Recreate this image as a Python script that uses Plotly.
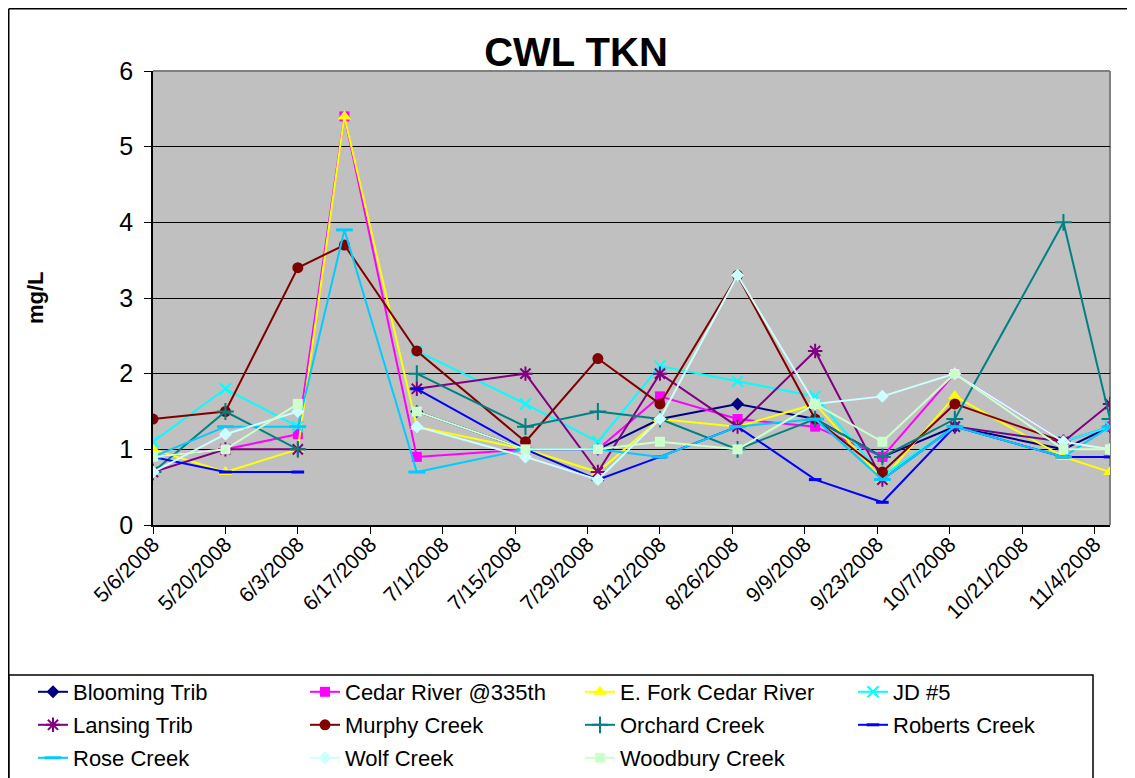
import plotly.graph_objects as go

# ---------------- data ----------------
dates = ["2008-05-06", "2008-05-20", "2008-06-03", "2008-06-12", "2008-06-26",
         "2008-07-17", "2008-07-31", "2008-08-12", "2008-08-27", "2008-09-11",
         "2008-09-24", "2008-10-08", "2008-10-29", "2008-11-07"]
N = None
blooming = [N, N, N, N, 1.5, 1.0, 1.0, 1.4, 1.6, 1.4, 0.9, 1.3, 1.0, 1.3]
cedar    = [0.9, 1.0, 1.2, 5.4, 0.9, 1.0, 1.0, 1.7, 1.4, 1.3, 0.9, 2.0, 1.1, 1.3]
efork    = [1.0, 0.7, 1.0, 5.4, 1.3, 1.0, 0.7, 1.4, 1.3, 1.6, 0.6, 1.7, 0.9, 0.7]
jd5      = [1.1, 1.8, 1.3, N, 2.3, 1.6, 1.1, 2.1, 1.9, 1.7, 0.65, 1.3, 1.1, 1.3]
lansing  = [0.7, 1.0, 1.0, N, 1.8, 2.0, 0.7, 2.0, 1.3, 2.3, 0.6, 1.3, 1.1, 1.6]
murphy   = [1.4, 1.5, 3.4, 3.7, 2.3, 1.1, 2.2, 1.6, 3.3, 1.4, 0.7, 1.6, 1.1, N]
orchard  = [0.7, 1.5, 1.0, N, 2.0, 1.3, 1.5, 1.4, 1.0, 1.4, 0.9, 1.4, 4.0, 1.4]
roberts  = [0.9, 0.7, 0.7, N, 1.8, 1.0, 0.6, 0.9, 1.3, 0.6, 0.3, 1.3, 0.9, 0.9]
rose     = [0.9, 1.3, 1.3, 3.9, 0.7, 1.0, 1.0, 0.9, 1.3, 1.4, 0.6, 1.3, 0.9, 1.3]
wolf     = [0.7, 1.2, 1.5, N, 1.3, 0.9, 0.6, 1.4, 3.3, 1.6, 1.7, 2.0, 1.1, 1.0]
woodbury = [0.9, 1.0, 1.6, N, 1.5, 1.0, 1.0, 1.1, 1.0, 1.6, 1.1, 2.0, 1.0, 1.0]

series_names = ["Blooming Trib", "Cedar River @335th", "E. Fork Cedar River", "JD #5",
                "Lansing Trib", "Murphy Creek", "Orchard Creek", "Roberts Creek",
                "Rose Creek", "Wolf Creek", "Woodbury Creek"]
series_values = [blooming, cedar, efork, jd5, lansing, murphy, orchard, roberts,
                 rose, wolf, woodbury]

# ---------------- styles ----------------
colors = ["#000080", "#FF00FF", "#FFFF00", "#00FFFF", "#800080", "#800000",
          "#008080", "#0000FF", "#00CCFF", "#CCFFFF", "#CCFFCC"]
symbols = ["diamond", "square", "triangle-up", "x-thin", "asterisk", "circle",
           "cross-thin", "line-ew", "line-ew", "diamond", "square"]
sizes = [10, 10, 12, 11, 12, 11, 12, 9, 12, 10, 10]
mlw = [0, 0, 0, 2, 2, 0, 2, 3, 3, 0, 0]

FONT = "Liberation Sans, Arial, sans-serif"
OFF = 8                       # page body margin offset
W, H = 1135 - OFF, 778 - OFF
L, R, T, B = 153 - OFF, 1110 - OFF, 71 - OFF, 525 - OFF   # plot area (figure px)

fig = go.Figure()
legend_text_x = [73, 345, 620, 893]      # reference text start (screen px)
legend_rows = [692, 725, 758]            # reference row centres (screen px)
for i, (name, vals) in enumerate(zip(series_names, series_values)):
    lg = "legend" if i == 0 else f"legend{i + 1}"
    fig.add_trace(go.Scatter(
        x=dates, y=vals, name=name, mode="lines+markers",
        connectgaps=False,
        line=dict(color=colors[i], width=2),
        marker=dict(symbol=symbols[i], size=sizes[i], color=colors[i],
                    line=dict(color=colors[i], width=mlw[i])),
        legend=lg,
    ))
    col = i % 4
    row = i // 4
    fig.layout[lg] = dict(
        x=(legend_text_x[col] - OFF - 40) / W,
        y=1 - (legend_rows[row] - OFF) / H,
        xref="container", yref="container",
        xanchor="left", yanchor="middle",
        orientation="h", bgcolor="rgba(0,0,0,0)",
        font=dict(family=FONT, size=22, color="black"),
        itemsizing="trace",
    )

def px_x(p):
    return (p - OFF - L) / (R - L)

def px_y(p):
    return (B - (p - OFF)) / (B - T)

x_left = (0.75 - L) / (R - L)
y_top = (B - 0.75) / (B - T)
shapes = [
    # outer chart border (left and top edges)
    dict(type="line", xref="paper", yref="paper", x0=x_left, x1=x_left,
         y0=px_y(800), y1=y_top, line=dict(color="black", width=1.5)),
    dict(type="line", xref="paper", yref="paper", x0=x_left, x1=px_x(1140),
         y0=y_top, y1=y_top, line=dict(color="black", width=1.5)),
    # legend box
    dict(type="rect", xref="paper", yref="paper", x0=x_left, x1=px_x(1093),
         y0=px_y(800), y1=px_y(675), line=dict(color="black", width=1.5)),
    # plot area top / right edges (gray)
    dict(type="line", xref="paper", yref="paper", x0=0, x1=1, y0=1, y1=1,
         line=dict(color="#808080", width=2), layer="between"),
    dict(type="line", xref="paper", yref="paper", x0=1, x1=1, y0=0, y1=1,
         line=dict(color="#808080", width=2), layer="between"),
]

fig.update_layout(
    width=W, height=H, autosize=False,
    margin=dict(l=L, r=W - R, t=T, b=H - B, pad=0),
    paper_bgcolor="white", plot_bgcolor="#C0C0C0",
    showlegend=True,
    title=dict(text="<b>CWL TKN</b>", x=(576 - OFF) / W, xanchor="center",
               y=1 - (52 - OFF) / H, yanchor="middle",
               font=dict(family=FONT, size=40, color="black")),
    xaxis=dict(
        type="date", range=["2008-05-06", "2008-11-07"],
        tick0="2008-05-06", dtick=14 * 86400000, tickformat="%-m/%-d/%Y",
        tickangle=-45, ticks="outside", ticklen=7, tickcolor="black", tickwidth=1,
        showline=True, linecolor="black", linewidth=1.5, showgrid=False,
        ticklabelstandoff=-10,
        tickfont=dict(family=FONT, size=21, color="black"), zeroline=False,
    ),
    yaxis=dict(
        range=[0, 6], dtick=1, ticks="outside", ticklen=7, tickcolor="black",
        showline=True, linecolor="black", linewidth=1.5,
        showgrid=True, gridcolor="black", gridwidth=1, zeroline=False,
        ticklabelstandoff=6,
        tickfont=dict(family=FONT, size=25, color="black"),
    ),
    shapes=shapes,
    annotations=[dict(text="<b>mg/L</b>", xref="paper", yref="paper",
                      x=px_x(35), y=px_y(298), textangle=-90, showarrow=False,
                      xanchor="center", yanchor="middle",
                      font=dict(family=FONT, size=22, color="black"))],
)

fig.write_html("out.html")
